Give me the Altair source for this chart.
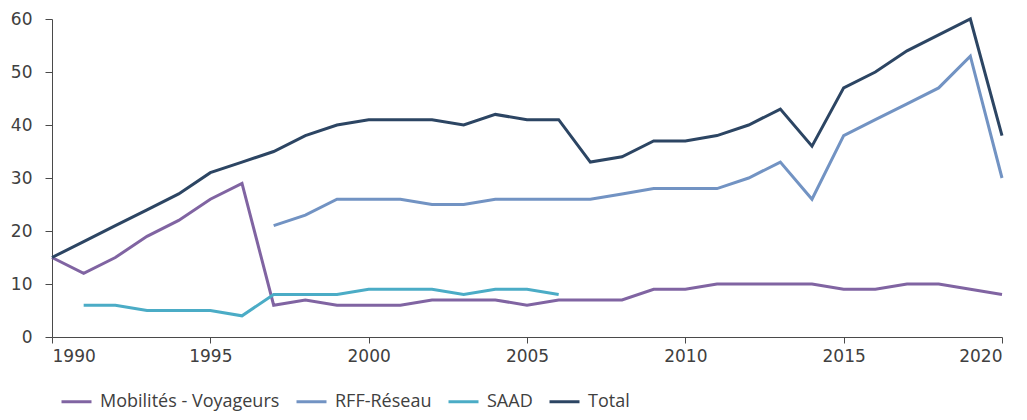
import altair as alt
import pandas as pd

years = list(range(1990, 2021))

mobilites = [15, 12, 15, 19, 22, 26, 29, 6, 7, 6, 6, 6, 7, 7, 7, 6, 7, 7, 7, 9, 9,
             10, 10, 10, 10, 9, 9, 10, 10, 9, 8]
rff_years = list(range(1997, 2021))
rff = [21, 23, 26, 26, 26, 25, 25, 26, 26, 26, 26, 27, 28, 28, 28, 30, 33, 26,
       38, 41, 44, 47, 53, 30]
saad_years = list(range(1991, 2007))
saad = [6, 6, 5, 5, 5, 4, 8, 8, 8, 9, 9, 9, 8, 9, 9, 8]
total = [15, 18, 21, 24, 27, 31, 33, 35, 38, 40, 41, 41, 41, 40, 42, 41, 41, 33, 34,
         37, 37, 38, 40, 43, 36, 47, 50, 54, 57, 60, 38]

series_names = ["Mobilités - Voyageurs", "RFF-Réseau", "SAAD", "Total"]
series_colors = ["#8064A2", "#7293C3", "#4BACC6", "#2C4563"]

rows = []
for y, v in zip(years, mobilites):
    rows.append({"year": y, "value": v, "serie": series_names[0]})
for y, v in zip(rff_years, rff):
    rows.append({"year": y, "value": v, "serie": series_names[1]})
for y, v in zip(saad_years, saad):
    rows.append({"year": y, "value": v, "serie": series_names[2]})
for y, v in zip(years, total):
    rows.append({"year": y, "value": v, "serie": series_names[3]})
df = pd.DataFrame(rows)

axis_font = "DejaVu Sans"
legend_font = "Open Sans"
axis_color = "#4a4a4a"
text_color = "#404040"

chart = alt.Chart(df).mark_line(strokeWidth=3).encode(
    x=alt.X("year:Q",
            scale=alt.Scale(domain=[1990, 2020], nice=False, zero=False),
            axis=alt.Axis(values=[1990, 1995, 2000, 2005, 2010, 2015, 2020],
                          format="d", title=None, grid=False,
                          domainColor=axis_color, tickColor=axis_color,
                          tickSize=6, labelFontSize=17, labelColor=text_color,
                          labelFont=axis_font, labelPadding=5)),
    y=alt.Y("value:Q",
            scale=alt.Scale(domain=[0, 60], nice=False),
            axis=alt.Axis(values=[0, 10, 20, 30, 40, 50, 60], title=None,
                          grid=False, domainColor=axis_color, tickColor=axis_color,
                          tickSize=7, labelFontSize=17, labelColor=text_color,
                          labelFont=axis_font, labelPadding=13)),
    color=alt.Color("serie:N",
                    scale=alt.Scale(domain=series_names, range=series_colors),
                    legend=alt.Legend(title=None, orient="none", direction="horizontal",
                                      legendX=8, legendY=366,
                                      symbolType="stroke", symbolStrokeWidth=3,
                                      symbolSize=900, labelFontSize=18,
                                      labelFont=legend_font, labelColor=text_color,
                                      labelLimit=400,
                                      columnPadding=10, labelOffset=7)),
    detail="serie:N",
).properties(
    width=950, height=318,
    padding={"left": 44, "top": 11, "right": 17, "bottom": 75},
    autosize=alt.AutoSizeParams(type="none"),
).configure_view(stroke=None)

chart.save("out.html", embed_options={"renderer": "svg", "actions": False})
